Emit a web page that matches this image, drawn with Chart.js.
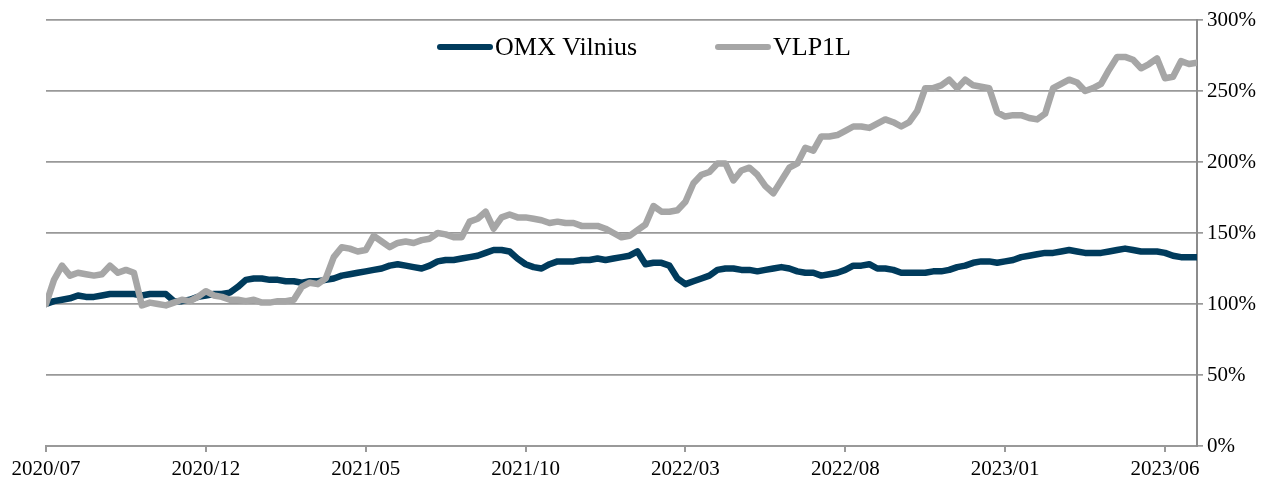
<!DOCTYPE html>
<html>
<head>
<meta charset="utf-8">
<script src="https://cdn.jsdelivr.net/npm/chart.js@4.4.0/dist/chart.umd.min.js"></script>
<style>
  body { margin: 0; background: #fff; }
  #wrap { width: 1265px; height: 479px; }
</style>
</head>
<body>
<div id="wrap"><canvas id="grafico"></canvas></div>
<script>
// Etiquetas del eje x (una cada 5 meses, 4 puntos por mes)
var tickLabels = ["2020/07", "2020/12", "2021/05", "2021/10", "2022/03", "2022/08", "2023/01", "2023/06"];

// Valores en % (base 100 = 2020/07)
var omxVilnius = [
  100, 102, 103, 104, 106, 105, 105, 106, 107, 107, 107, 107, 106, 107, 107, 107,
  102, 102, 103, 105, 106, 107, 107, 108, 112, 117, 118, 118, 117, 117, 116, 116,
  115, 116, 116, 117, 118, 120, 121, 122, 123, 124, 125, 127, 128, 127, 126, 125,
  127, 130, 131, 131, 132, 133, 134, 136, 138, 138, 137, 132, 128, 126, 125, 128,
  130, 130, 130, 131, 131, 132, 131, 132, 133, 134, 137, 128, 129, 129, 127, 118,
  114, 116, 118, 120, 124, 125, 125, 124, 124, 123, 124, 125, 126, 125, 123, 122,
  122, 120, 121, 122, 124, 127, 127, 128, 125, 125, 124, 122, 122, 122, 122, 123,
  123, 124, 126, 127, 129, 130, 130, 129, 130, 131, 133, 134, 135, 136, 136, 137,
  138, 137, 136, 136, 136, 137, 138, 139, 138, 137, 137, 137, 136, 134, 133, 133,
  133
];

var vlp1l = [
  100, 117, 127, 120, 122, 121, 120, 121, 127, 122, 124, 122,  99, 101, 100,  99,
  101, 103, 102, 105, 109, 106, 105, 103, 103, 102, 103, 101, 101, 102, 102, 103,
  112, 115, 114, 118, 133, 140, 139, 137, 138, 148, 144, 140, 143, 144, 143, 145,
  146, 150, 149, 147, 147, 158, 160, 165, 153, 161, 163, 161, 161, 160, 159, 157,
  158, 157, 157, 155, 155, 155, 153, 150, 147, 148, 152, 156, 169, 165, 165, 166,
  172, 185, 191, 193, 199, 199, 187, 194, 196, 191, 183, 178, 187, 196, 199, 210,
  208, 218, 218, 219, 222, 225, 225, 224, 227, 230, 228, 225, 228, 236, 252, 252,
  254, 258, 252, 258, 254, 253, 252, 235, 232, 233, 233, 231, 230, 234, 252, 255,
  258, 256, 250, 252, 255, 265, 274, 274, 272, 266, 269, 273, 259, 260, 271, 269,
  270
];

var colorOmx = "#003B5C";
var colorVlp = "#A6A6A6";
var colorEje = "#999999";

Chart.defaults.font.family = "'Liberation Serif', 'Times New Roman', serif";
Chart.defaults.font.size = 21;
Chart.defaults.color = "#000";

// Leyenda dibujada dentro del area del grafico
var leyendaPlugin = {
  id: "leyenda",
  afterDraw: function (chart) {
    var ctx = chart.ctx;
    var items = [
      { x: 440, texto: "OMX Vilnius", color: colorOmx },
      { x: 718, texto: "VLP1L", color: colorVlp }
    ];
    ctx.save();
    ctx.font = "26px 'Liberation Serif', 'Times New Roman', serif";
    ctx.textBaseline = "alphabetic";
    ctx.fillStyle = "#000";
    items.forEach(function (it) {
      ctx.beginPath();
      ctx.lineWidth = 6;
      ctx.lineCap = "round";
      ctx.strokeStyle = it.color;
      ctx.moveTo(it.x, 47);
      ctx.lineTo(it.x + 50, 47);
      ctx.stroke();
      ctx.fillText(it.texto, it.x + 55, 55);
    });
    ctx.restore();
  }
};

function puntos(valores) {
  return valores.map(function (v, i) { return { x: i, y: v }; });
}

var ctx = document.getElementById("grafico").getContext("2d");
var grafico = new Chart(ctx, {
  type: "line",
  data: {
    datasets: [
      {
        label: "OMX Vilnius",
        data: puntos(omxVilnius),
        borderColor: colorOmx,
        borderWidth: 6.5,
        pointRadius: 0,
        borderJoinStyle: "round",
        borderCapStyle: "round",
        order: 1
      },
      {
        label: "VLP1L",
        data: puntos(vlp1l),
        borderColor: colorVlp,
        borderWidth: 6.5,
        pointRadius: 0,
        borderJoinStyle: "round",
        borderCapStyle: "round",
        order: 0
      }
    ]
  },
  options: {
    responsive: true,
    maintainAspectRatio: false,
    animation: false,
    layout: { padding: { left: 46, top: 20, right: 0, bottom: 0 } },
    plugins: {
      legend: { display: false },
      tooltip: { enabled: false }
    },
    scales: {
      x: {
        type: "linear",
        min: 0,
        max: 144,
        afterBuildTicks: function (s) {
          s.ticks = tickLabels.map(function (t, k) { return { value: k * 20 }; });
        },
        afterFit: function (s) { s.height = 33; },
        ticks: {
          padding: 5,
          maxRotation: 0,
          autoSkip: false,
          callback: function (value) { return tickLabels[Math.round(value / 20)]; }
        },
        grid: { drawOnChartArea: false, drawTicks: true, tickLength: 6, color: colorEje, lineWidth: 2 },
        border: { display: true, color: colorEje, width: 2 }
      },
      y: {
        position: "right",
        min: 0,
        max: 300,
        afterFit: function (s) { s.width = 68; },
        ticks: {
          stepSize: 50,
          padding: 4,
          callback: function (value) { return value + "%"; }
        },
        grid: { color: colorEje, lineWidth: 1.7, tickLength: 6 },
        border: { display: true, color: "#8C8C8C", width: 2 }
      }
    }
  },
  plugins: [leyendaPlugin]
});
</script>
</body>
</html>
